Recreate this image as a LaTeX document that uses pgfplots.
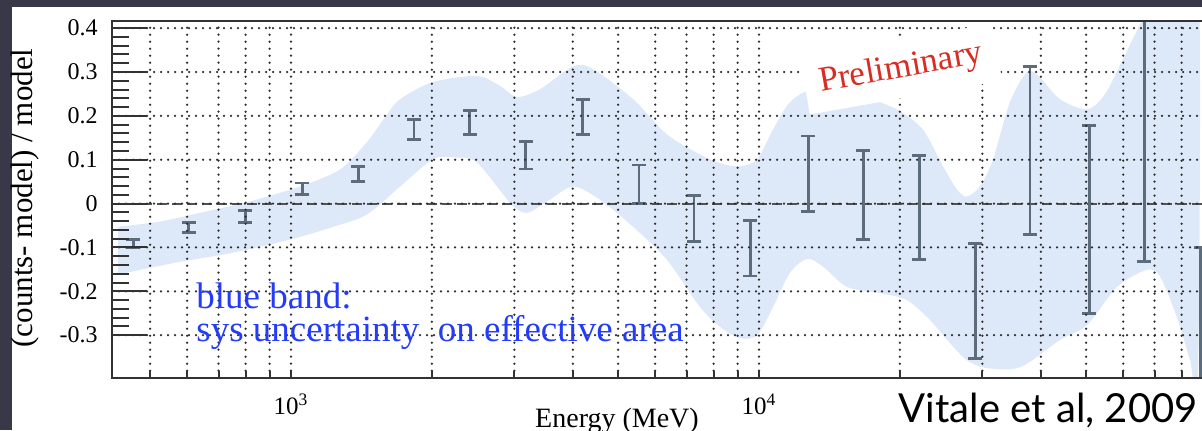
\documentclass[border=0pt]{standalone}
\usepackage{pgfplots}
\pgfplotsset{compat=1.18}
\usepackage{pgfplotstable}
\usepackage{fontspec}
\setmainfont{Liberation Serif}
\newfontfamily\lato{Lato}
\definecolor{slidebg}{RGB}{57,56,72}
\definecolor{bandblue}{RGB}{221,233,248}
\definecolor{barcol}{RGB}{92,108,122}
\definecolor{gridcol}{RGB}{45,45,45}
\definecolor{axiscol}{RGB}{50,50,50}
\definecolor{txtblue}{RGB}{35,60,250}
\definecolor{prelred}{RGB}{215,45,35}

\pgfplotstableread{
E c e
460 -0.091 0.010
605 -0.054 0.011
798 -0.030 0.014
1057 0.034 0.013
1393 0.068 0.017
1832 0.169 0.023
2411 0.185 0.027
3170 0.110 0.031
4197 0.198 0.040
5543 0.044 0.044
7264 -0.034 0.053
9575 -0.102 0.063
12735 0.068 0.086
16710 0.020 0.101
22020 -0.009 0.119
28980 -0.222 0.131
37930 0.121 0.191
50790 -0.036 0.214
66530 0.160 0.292
87900 -0.400 0.300
}\residuals

% systematic band: upper edge left to right, then lower edge right to left
\pgfplotstableread{
E v
426.6 -0.053
524.8 -0.041
639.7 -0.021
816.6 0.005
1044.8 0.039
1273.5 0.078
1452.1 0.140
1588.7 0.197
1710 0.238
2009 0.277
2494.5 0.291
2799 0.268
3040.9 0.243
3404.4 0.261
4008.7 0.313
4415.7 0.307
5382.7 0.238
6353 0.158
7482 0.112
8260 0.092
9099 0.085
9908 0.101
10715 0.169
11641 0.231
13032 0.261
15631 0.256
18155 0.231
19999 0.211
22387 0.169
24717 0.085
26485 0.032
27797 0.016
29648 0.039
31623 0.101
34356 0.231
37411 0.300
39811 0.288
43954 0.238
50234 0.215
54828 0.249
59979 0.330
66222 0.421
75509 0.51
86696 0.56
86696 -0.40
83368 -0.357
78163 -0.259
71945 -0.167
67453 -0.151
58210 -0.190
50234 -0.277
43954 -0.311
36141 -0.373
30690 -0.375
27797 -0.357
25236 -0.311
23174 -0.265
20701 -0.220
18155 -0.204
15417 -0.190
13709 -0.144
12677 -0.126
11641 -0.158
10715 -0.236
9908 -0.300
9099 -0.307
8260 -0.281
7482 -0.236
6353 -0.128
5382.7 -0.053
4570.9 0.009
4008.7 0.039
3572.8 0.009
3191.5 -0.021
2937.6 0.002
2494.5 0.094
2238.7 0.105
2009 0.101
1710 0.039
1452.1 -0.025
1230 -0.053
995.4 -0.082
751.6 -0.112
565 -0.135
426.6 -0.162
}\band

\begin{document}
\begin{tikzpicture}
\fill[slidebg] (0,0) rectangle (601pt,215pt);
\fill[white] (5.85pt,0) rectangle (601pt,211.5pt);
\begin{axis}[
  at={(56pt,26.15pt)}, anchor=south west,
  scale only axis, width=557.5pt, height=178.5pt,
  xmode=log, xmin=414.5, xmax=100000,
  ymin=-0.397, ymax=0.417,
  axis on top,
  xtick={1000,10000},
  xticklabels={{\fontsize{12.5}{14}\selectfont 10\textsuperscript{3}},{\fontsize{12.5}{14}\selectfont 10\textsuperscript{4}}},
  minor xtick={500,600,700,800,900,2000,3000,4000,5000,6000,7000,8000,9000,20000,30000,40000,50000,60000,70000,80000,90000},
  ytick={-0.3,-0.2,-0.1,0,0.1,0.2,0.3,0.4},
  yticklabels={-0.3,-0.2,-0.1,0,0.1,0.2,0.3,0.4},
  minor y tick num=4,
  xtick pos=left, ytick pos=left,
  tick align=inside,
  major tick length=17.5pt, minor tick length=8.5pt,
  tick style={axiscol, line width=1pt},
  xtick style={draw=none},
  xticklabel style={inner sep=0pt, anchor=north, yshift=-8pt},
  yticklabel style={font=\fontsize{12}{14}\selectfont, inner sep=0pt, anchor=east, xshift=-7pt},
  xmajorgrids, xminorgrids, ymajorgrids,
  grid style={gridcol, line width=1.25pt, line cap=round, dash pattern=on 0pt off 3.5pt},
  axis line style={axiscol, line width=1pt},
]
\addplot[fill=bandblue, draw=none, smooth, forget plot] table[x=E, y=v]{\band} -- cycle;
\addplot[axiscol!85, line width=1pt, dash pattern=on 5pt off 2.5pt, forget plot] coordinates {(414.5,0) (100000,0)};
\addplot[draw=none, mark=none,
  error bars/.cd, y dir=both, y explicit,
  error bar style={draw=barcol, line width=1.4pt},
  error mark options={draw=barcol, line width=1.4pt, mark size=3.5pt, rotate=90}]
  table[x=E, y=c, y error=e]{\residuals};
\end{axis}
\begin{axis}[
  at={(56pt,26.15pt)}, anchor=south west,
  scale only axis, width=557.5pt, height=178.5pt,
  xmode=log, xmin=414.5, xmax=100000,
  ymin=-0.397, ymax=0.417,
  xtick={1000,10000},
  xticklabels={},
  minor xtick={500,600,700,800,900,2000,3000,4000,5000,6000,7000,8000,9000,20000,30000,40000,50000,60000,70000,80000,90000},
  ytick=\empty,
  xtick pos=left,
  tick align=inside,
  major tick length=4pt, minor tick length=3.5pt,
  tick style={axiscol, line width=1pt},
  axis line style={draw=none},
]
\addplot[draw=none, forget plot] coordinates {(1000,0) (10000,0)};
\end{axis}
\node[anchor=base west, align=left, font=\fontsize{18.5}{16.5}\selectfont, text=txtblue, inner sep=0pt] at (98pt,44.5pt) {blue band:\\sys uncertainty\hspace{0.25em} on effective area};
\node[rotate=10, fill=white, text=prelred, font=\fontsize{17.5}{17.5}\selectfont, inner xsep=7.5pt, inner ysep=6.5pt] at (450.5pt,180.5pt) {Preliminary};
\node[anchor=base east, font=\lato\fontsize{20}{20}\selectfont, inner sep=0pt] at (599pt,4pt) {Vitale et al, 2009};
\node[anchor=base, font=\fontsize{14}{14}\selectfont, inner sep=0pt] at (308.5pt,1.5pt) {Energy (MeV)};
\node[rotate=90, font=\fontsize{15.5}{15.5}\selectfont, inner sep=0pt] at (12.5pt,116pt) {(counts- model) / model};
\pgfresetboundingbox
\path[use as bounding box] (0,0) rectangle (601pt,215pt);
\end{tikzpicture}
\end{document}
